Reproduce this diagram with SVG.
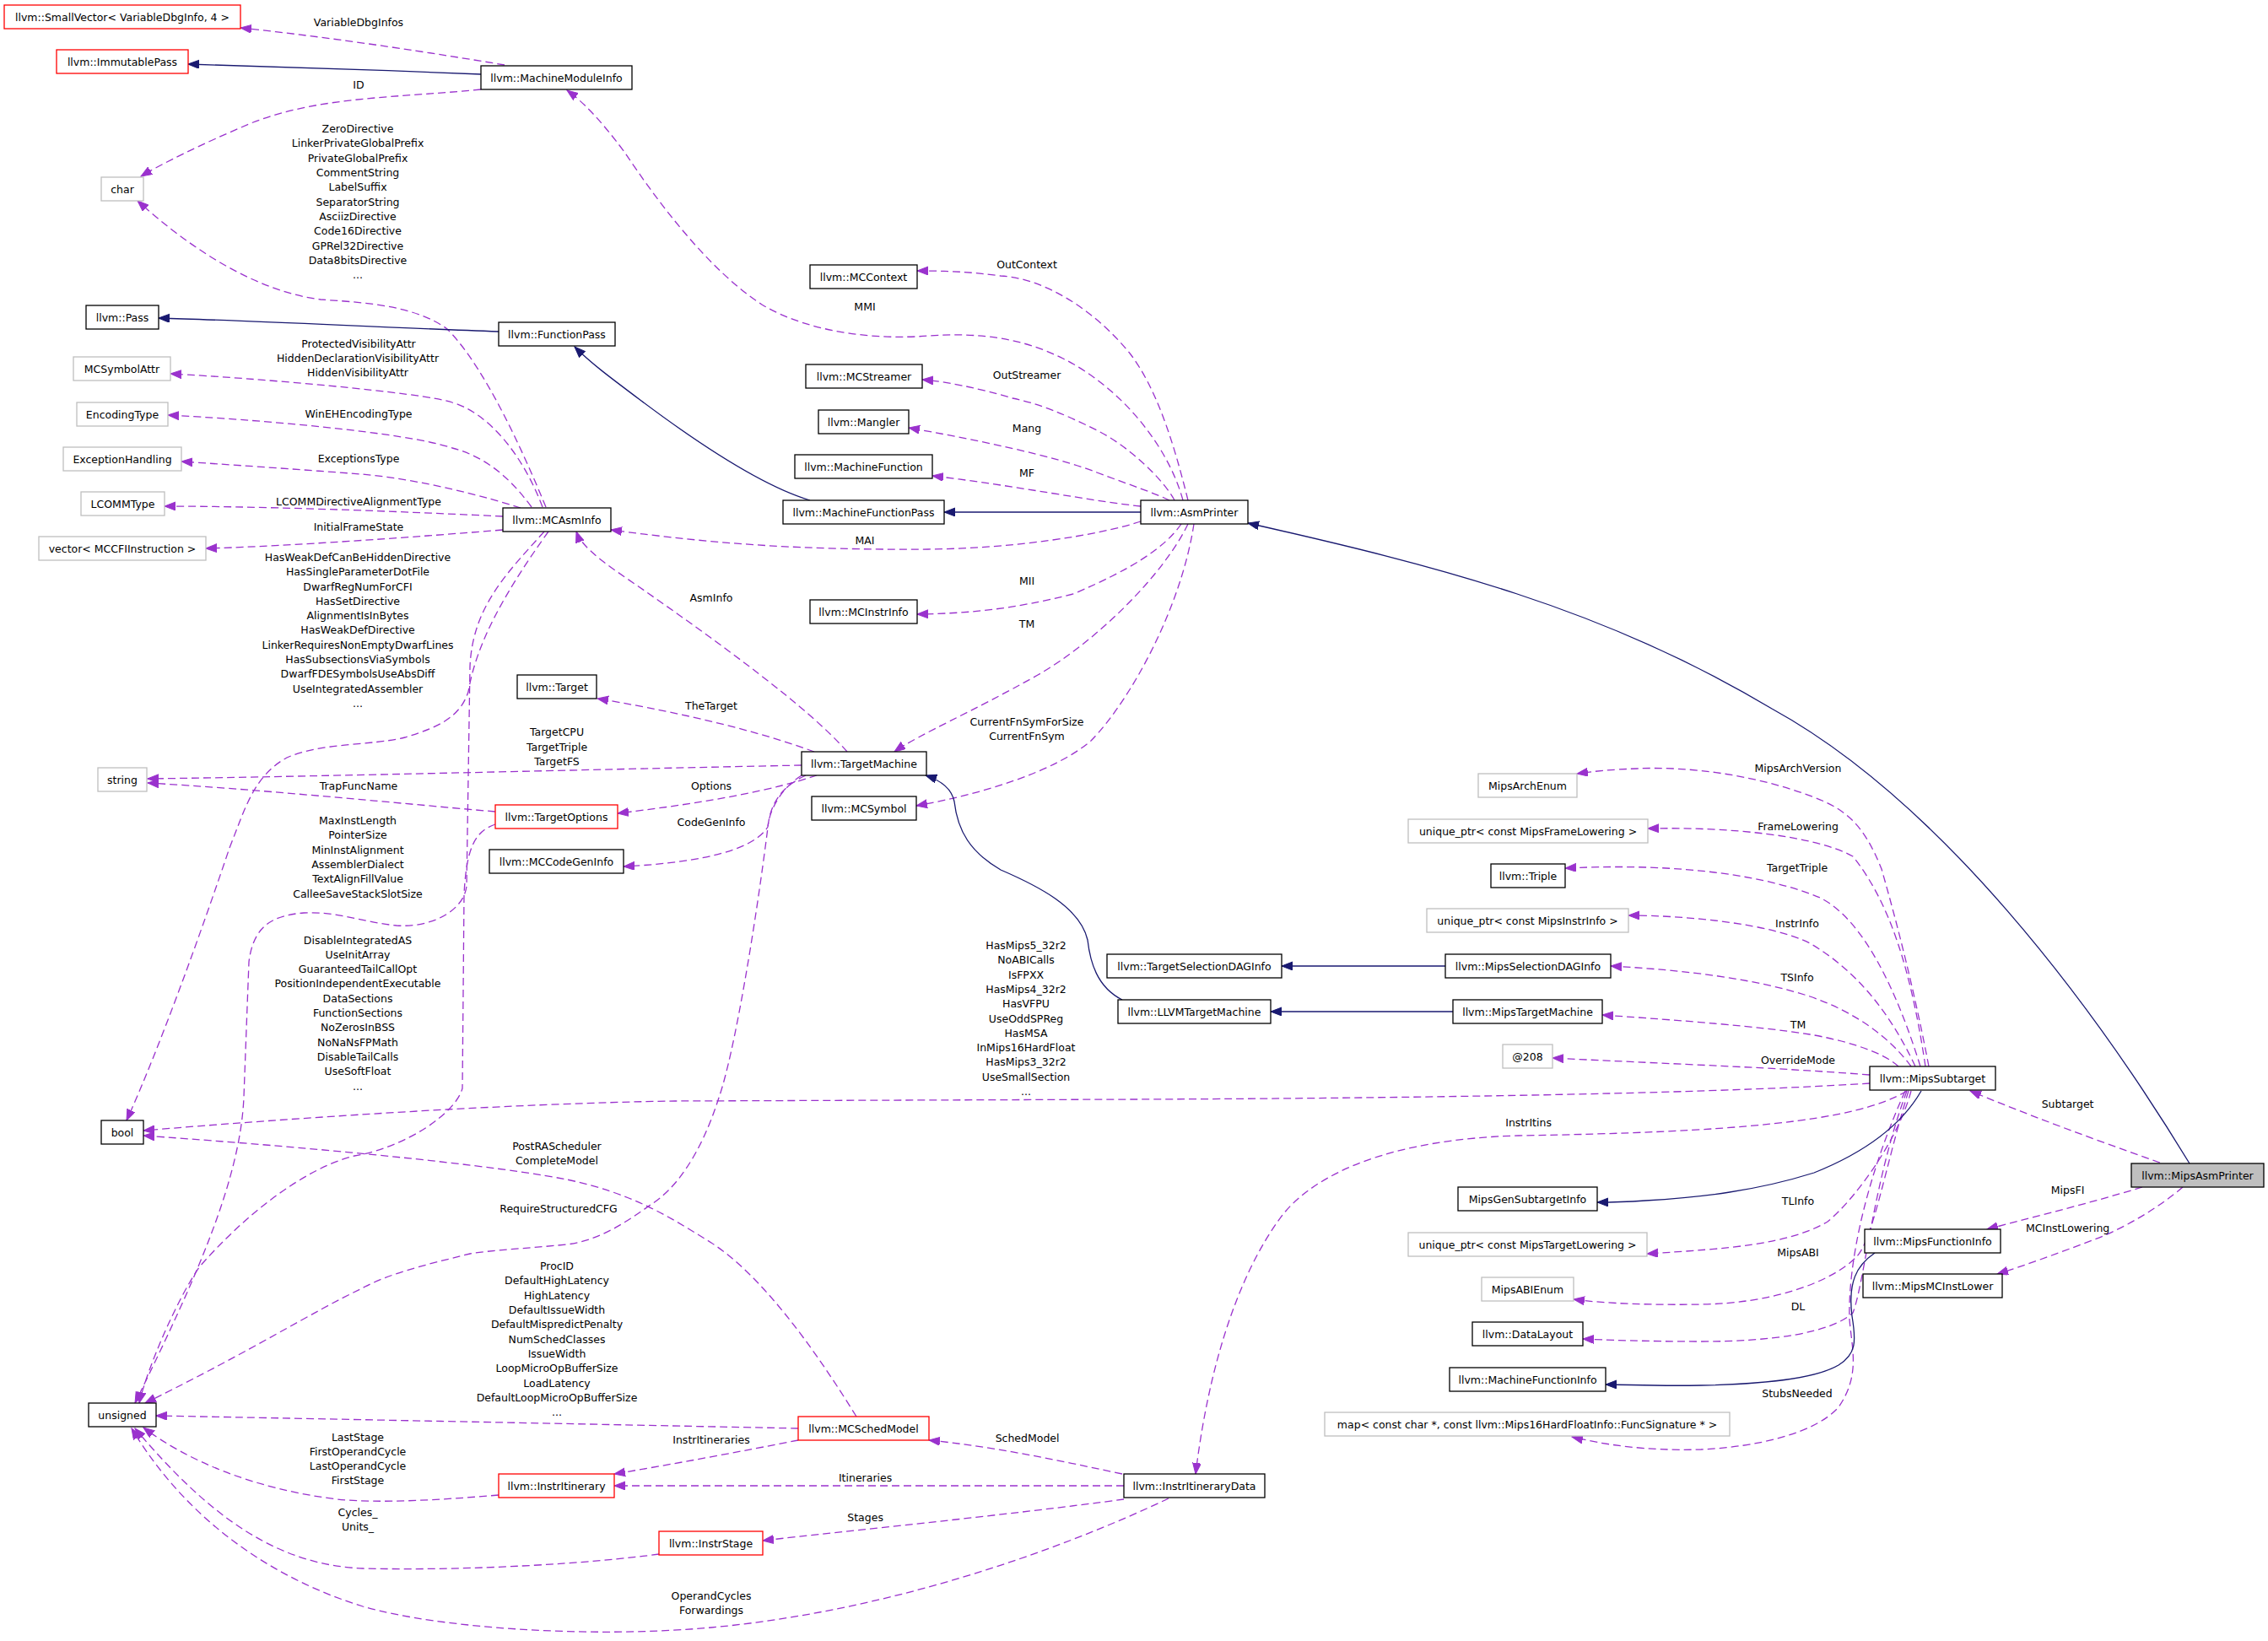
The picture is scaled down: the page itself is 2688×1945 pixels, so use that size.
<svg xmlns="http://www.w3.org/2000/svg" width="2688" height="1945" viewBox="0 0 2688 1945">
<style>
rect{fill:#fff;stroke-width:1.3}
.n{stroke:#000}
.nr{stroke:#ff0000}
.ng{stroke:#bfbfbf}
.sel{fill:#bfbfbf;stroke:#000}
text{font-family:"DejaVu Sans","Liberation Sans",sans-serif;font-size:12.5px;fill:#000;text-anchor:middle}
.e{fill:none;stroke:#9a32cd;stroke-width:1.3;stroke-dasharray:9,5;marker-end:url(#ap)}
.s{fill:none;stroke:#191970;stroke-width:1.3;marker-end:url(#as)}
</style>
<defs>
<marker id="ap" markerWidth="14" markerHeight="11" refX="13" refY="5" orient="auto" markerUnits="userSpaceOnUse"><path d="M0,0 L13,5 L0,10 z" fill="#9a32cd" stroke="#9a32cd"/></marker>
<marker id="as" markerWidth="14" markerHeight="11" refX="13" refY="5" orient="auto" markerUnits="userSpaceOnUse"><path d="M0,0 L13,5 L0,10 z" fill="#191970" stroke="#191970"/></marker>
</defs>
<rect x="0" y="0" width="2688" height="1945" style="fill:#fff;stroke:none"/>
<g id="edges">
<path class="e" d="M598,77 C520,64 400,45 285,33"/>
<path class="e" d="M570,106 C470,116 380,114 300,145 C240,170 190,195 167,209"/>
<path class="e" d="M647,601 C630,560 580,440 530,390 C490,360 420,358 380,355 C300,345 220,290 163,238"/>
<path class="e" d="M643,601 C620,540 580,490 536,477 C500,465 300,448 202,443"/>
<path class="e" d="M630,601 C600,560 570,540 536,531 C480,512 300,497 199,492"/>
<path class="e" d="M617,602 C580,590 500,568 428,562 C350,556 260,550 215,547"/>
<path class="e" d="M596,612 C450,605 300,600 195,600"/>
<path class="e" d="M596,628 C450,640 320,648 244,650"/>
<path class="e" d="M650,630 C600,700 565,760 555,820 C545,850 520,862 480,874 C440,884 380,880 340,898 C300,920 290,960 272,1005 C240,1100 190,1240 150,1328"/>
<path class="e" d="M645,630 C600,680 560,720 557,790 L553,1050 C550,1080 510,1100 470,1097 C430,1093 400,1080 360,1082 C320,1085 300,1100 295,1140 L289,1300 C285,1400 230,1520 160,1663"/>
<path class="e" d="M587,977 C565,985 553,1000 550,1060 L548,1290 C540,1320 480,1360 420,1370 C360,1385 290,1440 236,1502 C210,1540 175,1620 165,1663"/>
<path class="e" d="M955,919 C920,935 912,960 910,981 C895,1100 870,1250 852,1301 C830,1370 800,1410 771,1428 C740,1450 710,1470 672,1475 C620,1480 580,1482 557,1486 C500,1500 460,1510 429,1527 C370,1555 300,1600 172,1663"/>
<path class="e" d="M946,1693 C800,1690 400,1682 185,1678"/>
<path class="e" d="M591,1772 C520,1778 450,1782 400,1777 C300,1765 220,1730 170,1692"/>
<path class="e" d="M781,1842 C700,1853 560,1862 430,1859 C330,1855 250,1800 160,1693"/>
<path class="e" d="M1385,1776 C1250,1840 1050,1910 843,1929 C700,1942 520,1930 430,1904 C320,1870 220,1800 156,1693"/>
<path class="e" d="M1015,1679 C960,1590 900,1510 843,1473 C790,1440 750,1415 672,1398 C550,1375 300,1355 170,1346"/>
<path class="e" d="M2216,1284 C2000,1298 1600,1302 1344,1303 L800,1305 C600,1308 350,1325 170,1340"/>
<path class="e" d="M2260,1293 C2200,1330 2050,1342 1800,1346 C1650,1350 1560,1390 1520,1440 C1460,1520 1430,1640 1417,1747"/>
<path class="e" d="M1402,593 C1385,530 1330,460 1260,425 C1210,400 1160,394 1100,398 C1040,403 960,395 903,361 C840,320 780,240 740,180 C710,140 690,120 672,107"/>
<path class="e" d="M1408,593 C1390,520 1370,460 1340,420 C1300,370 1240,330 1186,327 C1150,322 1120,321 1087,321"/>
<path class="e" d="M1392,593 C1380,570 1340,530 1300,510 C1260,490 1230,478 1200,472 C1160,460 1120,452 1093,450"/>
<path class="e" d="M1386,593 C1370,585 1340,575 1300,560 C1250,540 1150,520 1077,507"/>
<path class="e" d="M1352,600 C1300,595 1200,575 1105,564"/>
<path class="e" d="M1352,618 C1300,635 1200,650 1100,651 C950,652 850,645 724,628"/>
<path class="e" d="M1400,621 C1380,650 1340,675 1272,704 C1200,722 1150,727 1087,728"/>
<path class="e" d="M1408,621 C1380,680 1300,760 1230,800 C1150,845 1090,870 1060,891"/>
<path class="e" d="M1415,621 C1400,720 1340,830 1293,878 C1250,915 1160,942 1086,955"/>
<path class="e" d="M1004,891 C960,840 850,760 758,696 C720,670 690,650 683,630"/>
<path class="e" d="M965,891 C880,860 780,840 708,828"/>
<path class="e" d="M950,907 C700,912 400,920 175,923"/>
<path class="e" d="M587,962 C450,950 300,935 175,928"/>
<path class="e" d="M968,919 C920,935 850,950 732,964"/>
<path class="e" d="M950,919 C925,935 912,960 910,980 C895,1005 840,1022 739,1027"/>
<path class="e" d="M2286,1264 C2270,1180 2250,1100 2230,1030 C2210,980 2190,960 2150,945 C2080,918 2000,908 1940,911 C1910,912 1890,914 1869,917"/>
<path class="e" d="M2282,1264 C2265,1150 2240,1070 2196,1015 C2150,990 2050,980 1953,982"/>
<path class="e" d="M2276,1264 C2250,1180 2210,1090 2157,1064 C2100,1040 2000,1022 1855,1029"/>
<path class="e" d="M2270,1264 C2240,1200 2200,1150 2145,1118 C2100,1095 2000,1085 1930,1085"/>
<path class="e" d="M2265,1264 C2240,1230 2200,1200 2145,1181 C2080,1160 2000,1150 1909,1145"/>
<path class="e" d="M2250,1264 C2230,1245 2180,1232 2145,1226 C2080,1216 2000,1210 1899,1203"/>
<path class="e" d="M2216,1274 C2100,1265 2000,1262 1840,1254"/>
<path class="e" d="M2265,1293 C2250,1350 2200,1420 2166,1448 C2120,1475 2050,1480 1952,1486"/>
<path class="e" d="M2262,1293 C2235,1380 2220,1470 2200,1490 C2170,1520 2100,1545 2016,1546 C1960,1547 1900,1545 1865,1540"/>
<path class="e" d="M2260,1293 C2220,1400 2210,1520 2196,1556 C2170,1580 2100,1590 2016,1590 C1950,1590 1900,1588 1876,1587"/>
<path class="e" d="M2258,1293 C2210,1400 2190,1500 2192,1564 C2195,1600 2205,1630 2179,1668 C2150,1700 2080,1715 2016,1718 C1950,1720 1900,1712 1863,1703"/>
<path class="e" d="M2560,1378 C2480,1350 2400,1320 2335,1293"/>
<path class="e" d="M2539,1407 C2480,1425 2420,1440 2355,1457"/>
<path class="e" d="M2587,1407 C2560,1430 2520,1455 2480,1470 C2440,1485 2400,1500 2367,1510"/>
<path class="e" d="M1330,1747 C1250,1730 1180,1715 1101,1707"/>
<path class="e" d="M946,1707 C880,1720 800,1735 728,1747"/>
<path class="e" d="M1332,1761 L728,1761"/>
<path class="e" d="M1332,1777 C1200,1795 1000,1815 904,1826"/>
<path class="s" d="M570,88 C450,83 300,78 223,76"/>
<path class="s" d="M591,393 C450,388 300,380 188,377"/>
<path class="s" d="M960,593 C900,575 820,520 760,475 C720,445 700,430 681,411"/>
<path class="s" d="M1352,607 L1119,607"/>
<path class="s" d="M2595,1379 C2480,1190 2300,950 2100,840 C1900,720 1700,670 1479,620"/>
<path class="s" d="M1713,1145 L1519,1145"/>
<path class="s" d="M1722,1199 L1506,1199"/>
<path class="s" d="M1330,1185 C1300,1170 1292,1140 1289,1114 C1280,1075 1230,1050 1186,1031 C1150,1010 1135,985 1131,950 C1128,935 1115,925 1097,919"/>
<path class="s" d="M2277,1293 C2250,1340 2200,1370 2150,1390 C2080,1412 2016,1419 1950,1423 C1920,1425 1900,1425 1893,1425"/>
<path class="s" d="M2222,1485 C2200,1500 2190,1520 2195,1560 C2200,1590 2200,1605 2179,1618 C2150,1635 2080,1641 2016,1642 C1960,1643 1930,1641 1903,1641"/>
</g>
<g id="labels">
<text x="425" y="30.5">VariableDbgInfos</text>
<text x="425" y="104.5">ID</text>
<text x="424" y="157.1">ZeroDirective</text>
<text x="424" y="174.4">LinkerPrivateGlobalPrefix</text>
<text x="424" y="191.7">PrivateGlobalPrefix</text>
<text x="424" y="209">CommentString</text>
<text x="424" y="226.3">LabelSuffix</text>
<text x="424" y="243.6">SeparatorString</text>
<text x="424" y="260.9">AsciizDirective</text>
<text x="424" y="278.2">Code16Directive</text>
<text x="424" y="295.5">GPRel32Directive</text>
<text x="424" y="312.8">Data8bitsDirective</text>
<text x="424" y="330.1">...</text>
<text x="425" y="411.5">ProtectedVisibilityAttr</text>
<text x="424" y="428.8">HiddenDeclarationVisibilityAttr</text>
<text x="424" y="446.1">HiddenVisibilityAttr</text>
<text x="425" y="495">WinEHEncodingType</text>
<text x="425" y="547.5">ExceptionsType</text>
<text x="425" y="598.5">LCOMMDirectiveAlignmentType</text>
<text x="425" y="629">InitialFrameState</text>
<text x="424" y="664.9">HasWeakDefCanBeHiddenDirective</text>
<text x="424" y="682.2">HasSingleParameterDotFile</text>
<text x="424" y="699.5">DwarfRegNumForCFI</text>
<text x="424" y="716.8">HasSetDirective</text>
<text x="424" y="734.1">AlignmentIsInBytes</text>
<text x="424" y="751.4">HasWeakDefDirective</text>
<text x="424" y="768.7">LinkerRequiresNonEmptyDwarfLines</text>
<text x="424" y="786">HasSubsectionsViaSymbols</text>
<text x="424" y="803.3">DwarfFDESymbolsUseAbsDiff</text>
<text x="424" y="820.6">UseIntegratedAssembler</text>
<text x="424" y="837.9">...</text>
<text x="660" y="872.2">TargetCPU</text>
<text x="660" y="889.5">TargetTriple</text>
<text x="660" y="906.8">TargetFS</text>
<text x="425" y="936">TrapFuncName</text>
<text x="424" y="977.1">MaxInstLength</text>
<text x="424" y="994.4">PointerSize</text>
<text x="424" y="1011.7">MinInstAlignment</text>
<text x="424" y="1029">AssemblerDialect</text>
<text x="424" y="1046.3">TextAlignFillValue</text>
<text x="424" y="1063.6">CalleeSaveStackSlotSize</text>
<text x="424" y="1118.5">DisableIntegratedAS</text>
<text x="424" y="1135.8">UseInitArray</text>
<text x="424" y="1153.1">GuaranteedTailCallOpt</text>
<text x="424" y="1170.4">PositionIndependentExecutable</text>
<text x="424" y="1187.7">DataSections</text>
<text x="424" y="1205">FunctionSections</text>
<text x="424" y="1222.3">NoZerosInBSS</text>
<text x="424" y="1239.6">NoNaNsFPMath</text>
<text x="424" y="1256.9">DisableTailCalls</text>
<text x="424" y="1274.2">UseSoftFloat</text>
<text x="424" y="1291.5">...</text>
<text x="1216" y="1125">HasMips5_32r2</text>
<text x="1216" y="1142.3">NoABICalls</text>
<text x="1216" y="1159.6">IsFPXX</text>
<text x="1216" y="1176.9">HasMips4_32r2</text>
<text x="1216" y="1194.2">HasVFPU</text>
<text x="1216" y="1211.5">UseOddSPReg</text>
<text x="1216" y="1228.8">HasMSA</text>
<text x="1216" y="1246.1">InMips16HardFloat</text>
<text x="1216" y="1263.4">HasMips3_32r2</text>
<text x="1216" y="1280.7">UseSmallSection</text>
<text x="1216" y="1298">...</text>
<text x="660" y="1362.9">PostRAScheduler</text>
<text x="660" y="1380.2">CompleteModel</text>
<text x="662" y="1436.5">RequireStructuredCFG</text>
<text x="660" y="1505.1">ProcID</text>
<text x="660" y="1522.4">DefaultHighLatency</text>
<text x="660" y="1539.7">HighLatency</text>
<text x="660" y="1557">DefaultIssueWidth</text>
<text x="660" y="1574.3">DefaultMispredictPenalty</text>
<text x="660" y="1591.6">NumSchedClasses</text>
<text x="660" y="1608.9">IssueWidth</text>
<text x="660" y="1626.2">LoopMicroOpBufferSize</text>
<text x="660" y="1643.5">LoadLatency</text>
<text x="660" y="1660.8">DefaultLoopMicroOpBufferSize</text>
<text x="660" y="1678.1">...</text>
<text x="424" y="1707.5">LastStage</text>
<text x="424" y="1724.8">FirstOperandCycle</text>
<text x="424" y="1742.1">LastOperandCycle</text>
<text x="424" y="1759.4">FirstStage</text>
<text x="424" y="1797">Cycles_</text>
<text x="424" y="1814.3">Units_</text>
<text x="843" y="1896">OperandCycles</text>
<text x="843" y="1913.3">Forwardings</text>
<text x="843" y="713">AsmInfo</text>
<text x="843" y="841">TheTarget</text>
<text x="843" y="936">Options</text>
<text x="843" y="978.5">CodeGenInfo</text>
<text x="1025" y="367.5">MMI</text>
<text x="1025" y="645">MAI</text>
<text x="1217" y="317.5">OutContext</text>
<text x="1217" y="448.5">OutStreamer</text>
<text x="1217" y="511.5">Mang</text>
<text x="1217" y="564.5">MF</text>
<text x="1217" y="693">MII</text>
<text x="1217" y="744">TM</text>
<text x="1217" y="860">CurrentFnSymForSize</text>
<text x="1217" y="877.3">CurrentFnSym</text>
<text x="843" y="1711">InstrItineraries</text>
<text x="1025.6" y="1756">Itineraries</text>
<text x="1025.6" y="1803">Stages</text>
<text x="1217.6" y="1709">SchedModel</text>
<text x="1811.6" y="1334.5">InstrItins</text>
<text x="2131" y="914.5">MipsArchVersion</text>
<text x="2131" y="984">FrameLowering</text>
<text x="2130" y="1033">TargetTriple</text>
<text x="2130" y="1098.5">InstrInfo</text>
<text x="2130" y="1163">TSInfo</text>
<text x="2131" y="1219">TM</text>
<text x="2131" y="1261">OverrideMode</text>
<text x="2131" y="1428">TLInfo</text>
<text x="2131" y="1489">MipsABI</text>
<text x="2131" y="1553">DL</text>
<text x="2130" y="1656">StubsNeeded</text>
<text x="2450.6" y="1313">Subtarget</text>
<text x="2450.6" y="1415">MipsFI</text>
<text x="2450.6" y="1460">MCInstLowering</text>
</g>
<g id="n_smallvector"><rect class="nr" x="5" y="6" width="280" height="28"/><text x="145" y="24.5">llvm::SmallVector&lt; VariableDbgInfo, 4 &gt;</text></g>
<g id="n_immutablepass"><rect class="nr" x="67" y="59" width="156" height="28"/><text x="145" y="77.5">llvm::ImmutablePass</text></g>
<g id="n_machinemoduleinfo"><rect class="n" x="570" y="78" width="179" height="28"/><text x="659.5" y="96.5">llvm::MachineModuleInfo</text></g>
<g id="n_char"><rect class="ng" x="120" y="210" width="50" height="28"/><text x="145" y="228.5">char</text></g>
<g id="n_pass"><rect class="n" x="102" y="362" width="86" height="28"/><text x="145" y="380.5">llvm::Pass</text></g>
<g id="n_functionpass"><rect class="n" x="591" y="382" width="138" height="28"/><text x="660" y="400.5">llvm::FunctionPass</text></g>
<g id="n_mcsymbolattr"><rect class="ng" x="87" y="423" width="115" height="28"/><text x="144.5" y="441.5">MCSymbolAttr</text></g>
<g id="n_encodingtype"><rect class="ng" x="91" y="477" width="108" height="28"/><text x="145" y="495.5">EncodingType</text></g>
<g id="n_exceptionhandling"><rect class="ng" x="75" y="530" width="140" height="28"/><text x="145" y="548.5">ExceptionHandling</text></g>
<g id="n_lcommtype"><rect class="ng" x="96" y="583" width="99" height="28"/><text x="145.5" y="601.5">LCOMMType</text></g>
<g id="n_mcasminfo"><rect class="n" x="596" y="602" width="128" height="28"/><text x="660" y="620.5">llvm::MCAsmInfo</text></g>
<g id="n_vector"><rect class="ng" x="46" y="636" width="198" height="28"/><text x="145" y="654.5">vector&lt; MCCFIInstruction &gt;</text></g>
<g id="n_string"><rect class="ng" x="116" y="910" width="58" height="28"/><text x="145" y="928.5">string</text></g>
<g id="n_target"><rect class="n" x="613" y="800" width="94" height="28"/><text x="660" y="818.5">llvm::Target</text></g>
<g id="n_targetoptions"><rect class="nr" x="587" y="954" width="145" height="28"/><text x="659.5" y="972.5">llvm::TargetOptions</text></g>
<g id="n_mccodegeninfo"><rect class="n" x="580" y="1007" width="159" height="28"/><text x="659.5" y="1025.5">llvm::MCCodeGenInfo</text></g>
<g id="n_bool"><rect class="n" x="120" y="1328" width="50" height="28"/><text x="145" y="1346.5">bool</text></g>
<g id="n_unsigned"><rect class="n" x="105" y="1663" width="80" height="28"/><text x="145" y="1681.5">unsigned</text></g>
<g id="n_instritinerary"><rect class="nr" x="591" y="1747" width="137" height="28"/><text x="659.5" y="1765.5">llvm::InstrItinerary</text></g>
<g id="n_instrstage"><rect class="nr" x="781" y="1815" width="123" height="28"/><text x="842.5" y="1833.5">llvm::InstrStage</text></g>
<g id="n_mcschedmodel"><rect class="nr" x="946" y="1679" width="155" height="28"/><text x="1023.5" y="1697.5">llvm::MCSchedModel</text></g>
<g id="n_instritinerarydata"><rect class="n" x="1332" y="1747" width="167" height="28"/><text x="1415.5" y="1765.5">llvm::InstrItineraryData</text></g>
<g id="n_mccontext"><rect class="n" x="960" y="314" width="127" height="28"/><text x="1023.5" y="332.5">llvm::MCContext</text></g>
<g id="n_mcstreamer"><rect class="n" x="955" y="432" width="138" height="28"/><text x="1024" y="450.5">llvm::MCStreamer</text></g>
<g id="n_mangler"><rect class="n" x="970" y="486" width="107" height="28"/><text x="1023.5" y="504.5">llvm::Mangler</text></g>
<g id="n_machinefunction"><rect class="n" x="942" y="539" width="163" height="28"/><text x="1023.5" y="557.5">llvm::MachineFunction</text></g>
<g id="n_machinefunctionpass"><rect class="n" x="928" y="593" width="191" height="28"/><text x="1023.5" y="611.5">llvm::MachineFunctionPass</text></g>
<g id="n_mcinstrinfo"><rect class="n" x="960" y="711" width="127" height="28"/><text x="1023.5" y="729.5">llvm::MCInstrInfo</text></g>
<g id="n_targetmachine"><rect class="n" x="950" y="891" width="148" height="28"/><text x="1024" y="909.5">llvm::TargetMachine</text></g>
<g id="n_mcsymbol"><rect class="n" x="962" y="944" width="124" height="28"/><text x="1024" y="962.5">llvm::MCSymbol</text></g>
<g id="n_asmprinter"><rect class="n" x="1352" y="593" width="127" height="28"/><text x="1415.5" y="611.5">llvm::AsmPrinter</text></g>
<g id="n_targetselectiondaginfo"><rect class="n" x="1312" y="1131" width="207" height="28"/><text x="1415.5" y="1149.5">llvm::TargetSelectionDAGInfo</text></g>
<g id="n_llvmtargetmachine"><rect class="n" x="1325" y="1185" width="181" height="28"/><text x="1415.5" y="1203.5">llvm::LLVMTargetMachine</text></g>
<g id="n_mipsarchenum"><rect class="ng" x="1752" y="917" width="117" height="28"/><text x="1810.5" y="935.5">MipsArchEnum</text></g>
<g id="n_up_framelowering"><rect class="ng" x="1669" y="971" width="284" height="28"/><text x="1811" y="989.5">unique_ptr&lt; const MipsFrameLowering &gt;</text></g>
<g id="n_triple"><rect class="n" x="1767" y="1024" width="88" height="28"/><text x="1811" y="1042.5">llvm::Triple</text></g>
<g id="n_up_instrinfo"><rect class="ng" x="1691" y="1077" width="239" height="28"/><text x="1810.5" y="1095.5">unique_ptr&lt; const MipsInstrInfo &gt;</text></g>
<g id="n_mipsselectiondaginfo"><rect class="n" x="1713" y="1131" width="196" height="28"/><text x="1811" y="1149.5">llvm::MipsSelectionDAGInfo</text></g>
<g id="n_mipstargetmachine"><rect class="n" x="1722" y="1185" width="177" height="28"/><text x="1810.5" y="1203.5">llvm::MipsTargetMachine</text></g>
<g id="n_at208"><rect class="ng" x="1781" y="1238" width="59" height="28"/><text x="1810.5" y="1256.5">@208</text></g>
<g id="n_mipssubtarget"><rect class="n" x="2216" y="1264" width="149" height="28"/><text x="2290.5" y="1282.5">llvm::MipsSubtarget</text></g>
<g id="n_mipsgensubtargetinfo"><rect class="n" x="1728" y="1407" width="165" height="28"/><text x="1810.5" y="1425.5">MipsGenSubtargetInfo</text></g>
<g id="n_up_targetlowering"><rect class="ng" x="1669" y="1461" width="283" height="28"/><text x="1810.5" y="1479.5">unique_ptr&lt; const MipsTargetLowering &gt;</text></g>
<g id="n_mipsabienum"><rect class="ng" x="1756" y="1514" width="109" height="28"/><text x="1810.5" y="1532.5">MipsABIEnum</text></g>
<g id="n_datalayout"><rect class="n" x="1745" y="1567" width="131" height="28"/><text x="1810.5" y="1585.5">llvm::DataLayout</text></g>
<g id="n_machinefunctioninfo"><rect class="n" x="1718" y="1621" width="185" height="28"/><text x="1810.5" y="1639.5">llvm::MachineFunctionInfo</text></g>
<g id="n_map"><rect class="ng" x="1570" y="1674" width="480" height="28"/><text x="1810" y="1692.5">map&lt; const char *, const llvm::Mips16HardFloatInfo::FuncSignature * &gt;</text></g>
<g id="n_mipsasmprinter"><rect class="sel" x="2526" y="1379" width="157" height="28"/><text x="2604.5" y="1397.5">llvm::MipsAsmPrinter</text></g>
<g id="n_mipsfunctioninfo"><rect class="n" x="2210" y="1457" width="161" height="28"/><text x="2290.5" y="1475.5">llvm::MipsFunctionInfo</text></g>
<g id="n_mipsmcinstlower"><rect class="n" x="2208" y="1510" width="165" height="28"/><text x="2290.5" y="1528.5">llvm::MipsMCInstLower</text></g>
</svg>
